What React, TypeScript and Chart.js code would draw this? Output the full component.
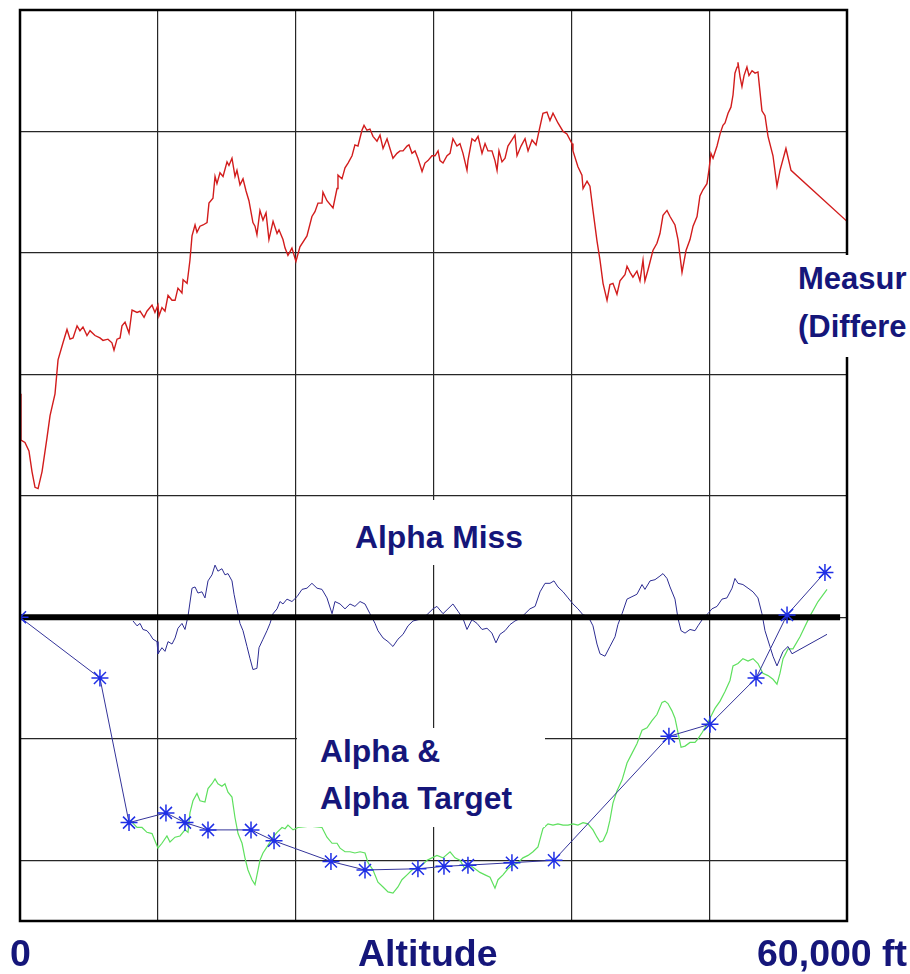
import React, { useEffect, useRef } from "react";
import { Chart, registerables } from "chart.js";

Chart.register(...registerables);

// x: altitude in thousands of feet, y: chart units (1 per grid division, 0 = black reference line)
const X_MIN = 0;
const X_MAX = 60;
const Y_MIN = -2.5;
const Y_MAX = 5;

const measuredDifference: [number, number][] = [
  [0, 1.84], [0.07, 1.46], [0.36, 1.44], [0.65, 1.37], [0.87, 1.2], [1.09, 1.07], [1.31, 1.06], [1.6, 1.2],
  [1.96, 1.48], [2.18, 1.66], [2.54, 1.84], [2.76, 2.12], [3.12, 2.26], [3.41, 2.37], [3.63, 2.29], [3.85, 2.3],
  [4.14, 2.4], [4.35, 2.36], [4.57, 2.39], [4.86, 2.32], [5.08, 2.36], [5.44, 2.32], [5.8, 2.3], [6.02, 2.28],
  [6.38, 2.29], [6.67, 2.26], [6.82, 2.2], [7.04, 2.29], [7.26, 2.3], [7.4, 2.4], [7.62, 2.43], [7.91, 2.34],
  [8.13, 2.53], [8.49, 2.51], [8.71, 2.52], [9.0, 2.47], [9.21, 2.52], [9.58, 2.57], [9.79, 2.51], [10.01, 2.57],
  [10.08, 2.48], [10.3, 2.55], [10.52, 2.52], [10.74, 2.65], [11.03, 2.61], [11.25, 2.61], [11.46, 2.71], [11.75, 2.67],
  [11.83, 2.78], [12.12, 2.75], [12.19, 2.81], [12.33, 2.94], [12.48, 3.14], [12.7, 3.23], [12.84, 3.17], [13.06, 3.22],
  [13.28, 3.23], [13.57, 3.25], [13.71, 3.41], [14.0, 3.45], [14.15, 3.63], [14.29, 3.57], [14.51, 3.66], [14.73, 3.63],
  [15.02, 3.75], [15.16, 3.72], [15.38, 3.78], [15.6, 3.63], [15.74, 3.68], [15.96, 3.56], [16.18, 3.61], [16.4, 3.51],
  [16.61, 3.43], [16.9, 3.25], [17.05, 3.22], [17.19, 3.15], [17.41, 3.35], [17.63, 3.27], [17.85, 3.33], [18.06, 3.11],
  [18.36, 3.26], [18.65, 3.16], [18.79, 3.19], [19.08, 3.11], [19.23, 3.04], [19.44, 2.98], [19.73, 3.04], [20.02, 2.93],
  [20.31, 3.05], [20.82, 3.14], [21.18, 3.3], [21.4, 3.34], [21.62, 3.41], [21.91, 3.41], [21.98, 3.5], [22.27, 3.43],
  [22.71, 3.37], [23.0, 3.53], [23.07, 3.64], [23.36, 3.61], [23.58, 3.7], [23.8, 3.74], [24.09, 3.8], [24.3, 3.89],
  [24.52, 3.88], [24.81, 4.01], [24.96, 4.05], [25.17, 4.01], [25.39, 4.02], [25.61, 3.96], [25.9, 3.92], [26.12, 3.97],
  [26.34, 3.86], [26.63, 3.94], [26.84, 3.86], [27.06, 3.78], [27.35, 3.82], [27.57, 3.84], [27.79, 3.84], [28.08, 3.88],
  [28.22, 3.89], [28.44, 3.82], [28.66, 3.84], [28.87, 3.78], [29.17, 3.67], [29.38, 3.74], [29.6, 3.76], [29.89, 3.8],
  [30.11, 3.8], [30.33, 3.84], [30.47, 3.76], [30.69, 3.74], [30.98, 3.8], [31.2, 3.82], [31.41, 3.94], [31.7, 3.88],
  [31.92, 3.9], [32.14, 3.82], [32.43, 3.68], [32.5, 3.76], [32.79, 3.94], [33.01, 3.92], [33.23, 3.96], [33.52, 3.82],
  [33.74, 3.9], [33.95, 3.84], [34.24, 3.84], [34.46, 3.76], [34.61, 3.68], [34.75, 3.84], [34.97, 3.75], [35.19, 3.78],
  [35.4, 3.88], [35.69, 3.93], [35.91, 3.97], [36.06, 3.8], [36.35, 3.88], [36.64, 3.94], [36.86, 3.84], [37.15, 3.93],
  [37.44, 3.89], [37.65, 4.0], [37.94, 4.15], [38.23, 4.16], [38.45, 4.09], [38.67, 4.15], [39.03, 4.07], [39.4, 4.0],
  [39.68, 3.98], [40.05, 3.9], [40.12, 3.84], [40.48, 3.71], [40.77, 3.64], [40.85, 3.53], [41.14, 3.59], [41.35, 3.55],
  [41.57, 3.35], [41.86, 3.1], [42.08, 2.94], [42.3, 2.75], [42.59, 2.61], [42.8, 2.74], [43.02, 2.75], [43.31, 2.66],
  [43.53, 2.77], [43.89, 2.82], [44.04, 2.89], [44.26, 2.84], [44.47, 2.8], [44.76, 2.85], [44.98, 2.77], [45.2, 2.94],
  [45.34, 2.77], [45.56, 2.86], [45.92, 3.02], [46.21, 3.08], [46.43, 3.16], [46.65, 3.31], [46.94, 3.35], [47.16, 3.3],
  [47.52, 3.23], [47.74, 3.11], [48.03, 2.84], [48.32, 3.02], [48.61, 3.11], [48.83, 3.22], [49.12, 3.3], [49.33, 3.47],
  [49.55, 3.52], [49.84, 3.57], [49.98, 3.68], [50.13, 3.82], [50.28, 3.78], [50.57, 3.88], [50.79, 3.98], [51.0, 4.05],
  [51.15, 4.07], [51.37, 4.15], [51.58, 4.2], [51.73, 4.3], [51.87, 4.48], [52.02, 4.53], [52.09, 4.57], [52.24, 4.45],
  [52.38, 4.37], [52.53, 4.46], [52.74, 4.53], [52.89, 4.46], [53.11, 4.5], [53.33, 4.48], [53.54, 4.49], [53.83, 4.17],
  [54.05, 4.13], [54.27, 3.96], [54.63, 3.8], [54.92, 3.55], [55.14, 3.68], [55.57, 3.86], [55.94, 3.68], [60.0, 3.26],
];

const alphaMiss: [number, number][] = [
  [8.2, -0.03], [8.49, -0.07], [8.71, -0.05], [8.92, -0.1], [9.21, -0.11], [9.43, -0.14], [9.65, -0.18], [9.94, -0.2],
  [10.01, -0.3], [10.3, -0.25], [10.52, -0.28], [10.74, -0.2], [11.03, -0.22], [11.25, -0.17], [11.46, -0.09], [11.75, -0.05],
  [11.97, -0.1], [12.19, 0.01], [12.48, 0.24], [12.7, 0.25], [12.91, 0.2], [13.2, 0.21], [13.42, 0.16], [13.64, 0.3],
  [13.93, 0.35], [14.15, 0.43], [14.36, 0.38], [14.65, 0.4], [14.87, 0.35], [15.09, 0.36], [15.38, 0.3], [15.53, 0.19],
  [15.74, 0.07], [15.96, -0.05], [16.18, -0.11], [16.47, -0.24], [16.69, -0.34], [16.9, -0.43], [17.19, -0.42], [17.34, -0.25],
  [17.63, -0.18], [17.92, -0.11], [18.14, -0.05], [18.36, 0.03], [18.65, 0.07], [18.86, 0.13], [19.08, 0.11], [19.37, 0.15],
  [19.73, 0.13], [20.1, 0.17], [20.46, 0.23], [20.82, 0.24], [21.18, 0.28], [21.55, 0.24], [21.91, 0.23], [22.27, 0.16],
  [22.64, 0.03], [22.85, 0.13], [23.22, 0.11], [23.58, 0.07], [23.94, 0.11], [24.3, 0.09], [24.67, 0.13], [25.03, 0.11],
  [25.39, 0.03], [25.76, -0.05], [25.97, -0.11], [26.34, -0.17], [26.7, -0.2], [27.06, -0.24], [27.42, -0.18], [27.79, -0.14],
  [28.15, -0.07], [28.51, -0.03], [28.87, -0.02], [29.24, -0.01], [29.6, 0.03], [29.96, 0.07], [30.25, 0.09], [30.69, 0.03],
  [31.05, 0.07], [31.41, 0.11], [31.78, 0.05], [32.14, -0.01], [32.43, -0.1], [32.79, -0.02], [33.16, -0.05], [33.52, -0.1],
  [33.88, -0.09], [34.24, -0.13], [34.53, -0.21], [34.82, -0.14], [35.19, -0.11], [35.55, -0.06], [35.91, -0.03], [36.28, -0.01],
  [36.64, 0.03], [37.0, 0.07], [37.37, 0.09], [37.73, 0.21], [38.09, 0.28], [38.45, 0.28], [38.74, 0.3], [39.03, 0.25],
  [39.4, 0.21], [39.76, 0.16], [40.12, 0.11], [40.48, 0.07], [40.85, 0.02], [41.21, 0.01], [41.57, -0.07], [41.86, -0.22],
  [42.08, -0.3], [42.44, -0.32], [42.8, -0.24], [43.17, -0.16], [43.38, -0.06], [43.68, 0.03], [44.04, 0.15], [44.4, 0.17],
  [44.76, 0.19], [45.13, 0.27], [45.34, 0.23], [45.71, 0.3], [46.07, 0.31], [46.43, 0.34], [46.65, 0.36], [46.94, 0.32],
  [47.16, 0.25], [47.52, 0.15], [47.74, -0.01], [47.96, -0.11], [48.25, -0.13], [48.61, -0.1], [48.97, -0.11], [49.19, -0.07],
  [49.55, -0.01], [49.91, 0.03], [50.2, 0.07], [50.57, 0.09], [50.93, 0.15], [51.29, 0.16], [51.66, 0.24], [51.87, 0.32],
  [52.09, 0.28], [52.45, 0.27], [52.82, 0.24], [53.18, 0.21], [53.54, 0.16], [53.83, 0.03], [54.05, -0.11], [54.41, -0.24],
  [54.63, -0.32], [54.92, -0.4], [55.14, -0.34], [55.36, -0.28], [55.72, -0.24], [56.01, -0.3], [58.55, -0.14],
];

const alpha: [number, number][] = [
  [7.98, -1.67], [8.49, -1.73], [8.85, -1.73], [9.21, -1.77], [9.58, -1.78], [9.79, -1.84], [10.01, -1.9], [10.3, -1.86],
  [10.66, -1.8], [10.88, -1.85], [11.25, -1.81], [11.61, -1.8], [11.97, -1.75], [12.19, -1.77], [12.33, -1.61], [12.55, -1.51],
  [12.84, -1.45], [13.06, -1.51], [13.42, -1.52], [13.64, -1.41], [13.93, -1.37], [14.15, -1.33], [14.36, -1.37], [14.65, -1.39],
  [14.87, -1.37], [15.09, -1.44], [15.38, -1.48], [15.6, -1.65], [15.82, -1.78], [16.11, -1.86], [16.32, -1.98], [16.54, -2.08],
  [16.83, -2.16], [17.05, -2.2], [17.27, -2.08], [17.41, -2.0], [17.63, -1.94], [17.92, -1.89], [18.14, -1.85], [18.36, -1.81],
  [18.65, -1.77], [19.01, -1.73], [19.23, -1.74], [19.44, -1.71], [19.81, -1.75], [20.17, -1.73], [21.04, -1.72], [21.91, -1.73],
  [22.27, -1.81], [22.64, -1.86], [23.0, -1.86], [23.22, -1.9], [23.58, -1.93], [23.94, -1.93], [24.3, -1.94], [24.67, -1.93],
  [25.03, -1.94], [25.25, -2.02], [25.61, -2.08], [25.97, -2.18], [26.34, -2.22], [26.7, -2.26], [27.06, -2.27], [27.42, -2.22],
  [27.71, -2.16], [28.08, -2.12], [28.44, -2.08], [28.8, -2.06], [29.17, -2.04], [29.53, -2.0], [29.89, -1.98], [30.25, -1.96],
  [30.69, -1.98], [31.2, -1.93], [31.56, -1.98], [31.92, -2.0], [32.28, -2.07], [32.65, -2.04], [33.01, -2.07], [33.37, -2.1],
  [33.74, -2.12], [34.1, -2.14], [34.46, -2.23], [34.68, -2.16], [35.04, -2.12], [35.4, -2.07], [35.77, -2.04], [36.13, -2.02],
  [36.49, -1.98], [36.86, -1.96], [37.22, -1.93], [37.58, -1.89], [37.94, -1.74], [38.31, -1.7], [38.67, -1.71], [39.03, -1.7],
  [39.4, -1.71], [39.76, -1.71], [40.12, -1.7], [40.48, -1.71], [40.85, -1.69], [41.21, -1.7], [41.57, -1.75], [41.86, -1.81],
  [42.08, -1.85], [42.3, -1.84], [42.59, -1.77], [42.8, -1.67], [43.02, -1.53], [43.31, -1.43], [43.68, -1.34], [44.04, -1.2],
  [44.4, -1.12], [44.76, -1.04], [45.13, -0.93], [45.49, -0.91], [45.85, -0.85], [46.21, -0.8], [46.58, -0.7], [46.79, -0.69],
  [47.01, -0.71], [47.3, -0.77], [47.52, -0.83], [47.74, -0.95], [47.96, -1.07], [48.25, -1.06], [48.61, -1.03], [48.97, -1.03],
  [49.19, -1.0], [49.48, -0.95], [49.7, -0.91], [50.06, -0.83], [50.42, -0.75], [50.79, -0.69], [51.15, -0.61], [51.51, -0.52],
  [51.73, -0.4], [52.09, -0.38], [52.45, -0.34], [52.82, -0.36], [53.18, -0.34], [53.54, -0.38], [53.9, -0.46], [54.27, -0.48],
  [54.63, -0.51], [54.92, -0.55], [55.14, -0.46], [55.36, -0.34], [55.72, -0.26], [56.08, -0.26], [56.59, -0.16], [57.31, 0.01],
  [57.9, 0.13], [58.55, 0.23],
];

const alphaTarget: [number, number][] = [
  [0, 0], [5.8, -0.5], [7.91, -1.69], [10.59, -1.61], [11.97, -1.69], [13.64, -1.75], [16.76, -1.75], [18.43, -1.84],
  [22.56, -2.01], [25.03, -2.08], [28.87, -2.07], [30.76, -2.05], [32.5, -2.04], [35.69, -2.02], [38.74, -2.0],
  [47.08, -0.98], [50.06, -0.88], [53.4, -0.5], [55.65, 0.02], [58.4, 0.37],
];

const zeroLine: [number, number][] = [[0, 0], [59.5, 0]];

const measuredLabel = ["Measur", "(Differe"];
const missLabel = "Alpha Miss";
const alphaLabel = ["Alpha &", "Alpha Target"];
const axisLabels = ["0", "Altitude", "60,000 ft"];

const NAVY = "#15167a";

const framePlugin = {
  id: "frame",
  afterDatasetsDraw(chart: any) {
    const { ctx, chartArea: a } = chart;
    ctx.save();
    ctx.strokeStyle = "#000";
    ctx.lineWidth = 2.5;
    ctx.strokeRect(a.left, a.top, a.right - a.left, a.bottom - a.top);
    ctx.restore();
  },
};

const textBase: React.CSSProperties = {
  position: "absolute",
  background: "#fff",
  color: NAVY,
  fontFamily: "'Liberation Sans', Arial, sans-serif",
  fontWeight: 700,
  whiteSpace: "nowrap",
  boxSizing: "border-box",
};

export default function App() {
  const ref = useRef<HTMLCanvasElement | null>(null);

  useEffect(() => {
    if (!ref.current) return;
    const chart = new Chart(ref.current, {
      type: "line",
      data: {
        datasets: [
          {
            label: "Alpha Target",
            data: alphaTarget as any,
            borderColor: "#34349a",
            borderWidth: 1,
            pointStyle: "star",
            pointRadius: 8.5,
            pointBorderColor: "#1f2fe6",
            pointBorderWidth: 1.5,
            pointBackgroundColor: "#1f2fe6",
            tension: 0,
          },
          {
            label: "Zero",
            data: zeroLine as any,
            borderColor: "#000",
            borderWidth: 6,
            pointRadius: 0,
            borderCapStyle: "butt",
          },
          {
            label: "Alpha Miss",
            data: alphaMiss as any,
            borderColor: "#2c2c92",
            borderWidth: 1,
            pointRadius: 0,
            tension: 0,
          },
          {
            label: "Alpha",
            data: alpha as any,
            borderColor: "#5ee05e",
            borderWidth: 1.2,
            pointRadius: 0,
            tension: 0,
          },
          {
            label: "Measured (Difference)",
            data: measuredDifference as any,
            borderColor: "#d21c1c",
            borderWidth: 1.4,
            pointRadius: 0,
            tension: 0,
          },
        ],
      },
      options: {
        responsive: false,
        animation: false,
        devicePixelRatio: 1,
        layout: { padding: { left: 20, top: 6, right: 63, bottom: 53 } },
        plugins: { legend: { display: false }, tooltip: { enabled: false } },
        scales: {
          x: {
            type: "linear",
            min: X_MIN,
            max: X_MAX,
            ticks: { display: false, stepSize: 10 },
            grid: { color: "#262626", lineWidth: 1.2, drawTicks: false },
            border: { display: false },
          },
          y: {
            type: "linear",
            min: Y_MIN,
            max: Y_MAX,
            ticks: { display: false, stepSize: 1 },
            grid: { color: "#262626", lineWidth: 1.2, drawTicks: false },
            border: { display: false },
          },
        },
      },
      plugins: [framePlugin],
    });
    return () => chart.destroy();
  }, []);

  return (
    <div style={{ position: "absolute", left: 0, top: 0, width: 910, height: 974, overflow: "hidden", background: "#fff" }}>
      <canvas ref={ref} width={910} height={974} style={{ width: 910, height: 974, display: "block" }} />
      <div style={{ ...textBase, left: 788, top: 255, width: 140, height: 102, paddingLeft: 10, fontSize: 31, lineHeight: "48px" }}>
        <div>{measuredLabel[0]}</div>
        <div>{measuredLabel[1]}</div>
      </div>
      <div style={{ ...textBase, left: 345, top: 500, width: 185, height: 65, paddingLeft: 10, paddingTop: 13, fontSize: 31.8, lineHeight: "48px" }}>
        {missLabel}
      </div>
      <div style={{ ...textBase, left: 297, top: 728, width: 248, height: 99, paddingLeft: 23, fontSize: 31.8, lineHeight: "47px" }}>
        <div>{alphaLabel[0]}</div>
        <div>{alphaLabel[1]}</div>
      </div>
      <div style={{ ...textBase, background: "transparent", left: 10, top: 930, fontSize: 37.5, lineHeight: "46px" }}>{axisLabels[0]}</div>
      <div style={{ ...textBase, background: "transparent", left: 358, top: 930, fontSize: 37.5, lineHeight: "46px" }}>{axisLabels[1]}</div>
      <div style={{ ...textBase, background: "transparent", left: 757, top: 930, fontSize: 37.5, lineHeight: "46px" }}>{axisLabels[2]}</div>
    </div>
  );
}
